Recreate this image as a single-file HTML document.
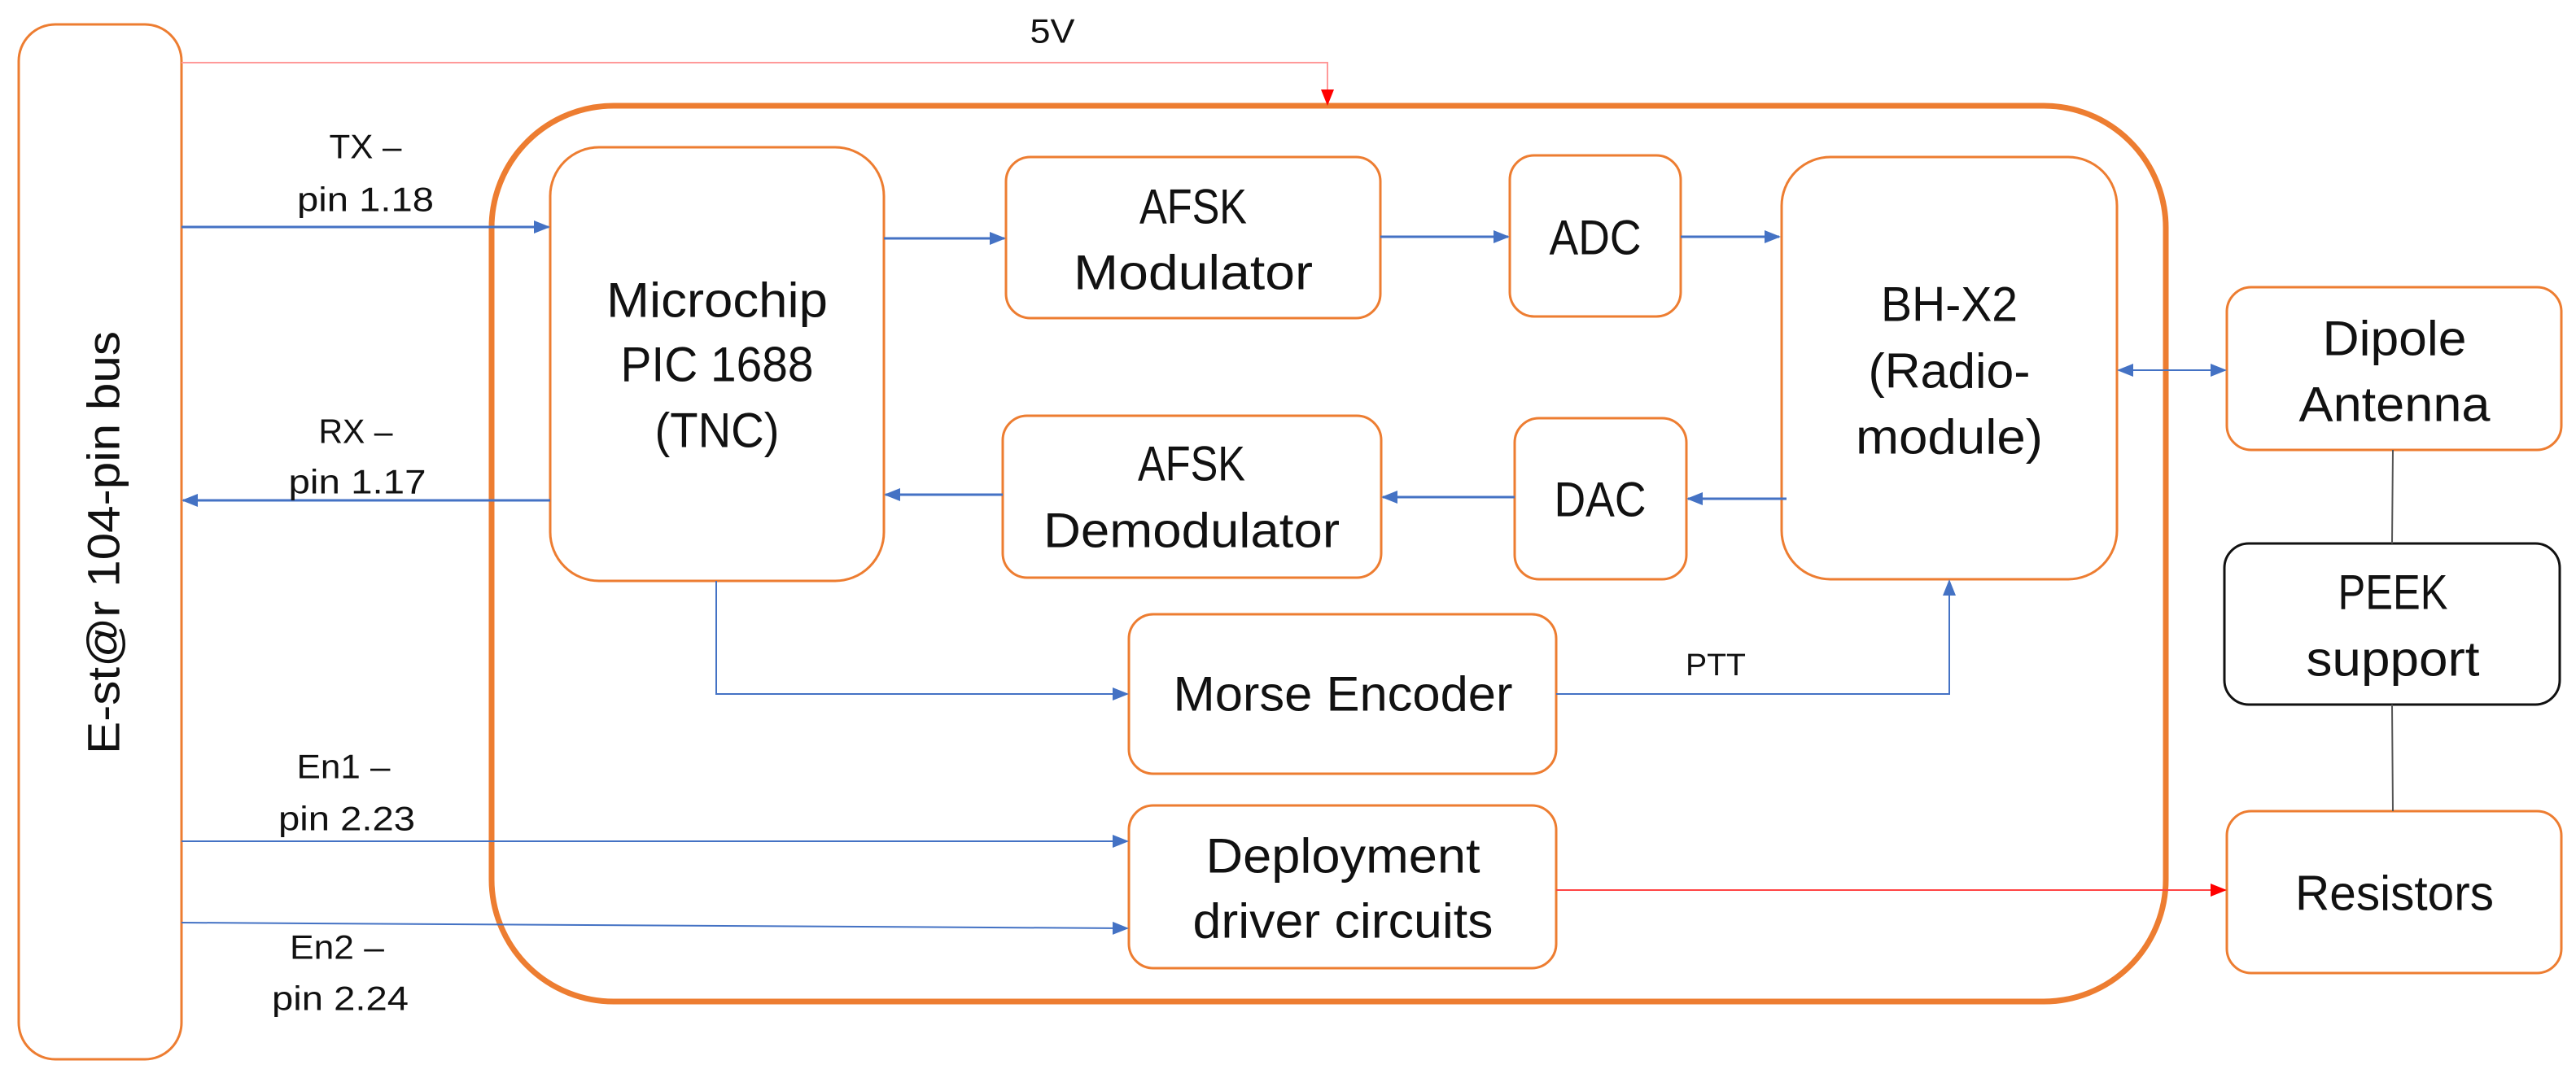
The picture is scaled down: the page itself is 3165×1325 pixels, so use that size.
<!DOCTYPE html>
<html><head><meta charset="utf-8"><style>
html,body{margin:0;padding:0;background:#fff}
svg{display:block}
text{font-family:"Liberation Sans",sans-serif;fill:#111}
.b{font-size:60px}
.l{font-size:42px}
</style></head><body>
<svg width="3165" height="1325" viewBox="0 0 3165 1325" xmlns="http://www.w3.org/2000/svg">
<defs>
<marker id="abs" markerWidth="20" markerHeight="20" refX="18" refY="10" orient="auto-start-reverse" markerUnits="userSpaceOnUse"><path d="M0,2 L20,10 L0,18 z" fill="#4472c4"/></marker>
<marker id="ar" markerWidth="20" markerHeight="20" refX="18" refY="10" orient="auto" markerUnits="userSpaceOnUse"><path d="M0,2 L20,10 L0,18 z" fill="#ff0000"/></marker>
</defs>
<g fill="none" stroke="#ed7d31">
<rect x="23" y="30" width="200" height="1272" rx="45" stroke-width="3"/>
<rect x="604" y="130" width="2057" height="1101" rx="150" stroke-width="7"/>
<rect x="676" y="181" width="410" height="533" rx="60" stroke-width="3"/>
<rect x="1236" y="193" width="460" height="198" rx="30" stroke-width="3"/>
<rect x="1232" y="511" width="465" height="199" rx="30" stroke-width="3"/>
<rect x="1855" y="191" width="210" height="198" rx="30" stroke-width="3"/>
<rect x="1861" y="514" width="211" height="198" rx="30" stroke-width="3"/>
<rect x="2189" y="193" width="412" height="519" rx="60" stroke-width="3"/>
<rect x="1387" y="755" width="525" height="196" rx="30" stroke-width="3"/>
<rect x="1387" y="990" width="525" height="200" rx="30" stroke-width="3"/>
<rect x="2736" y="353" width="411" height="200" rx="30" stroke-width="3"/>
<rect x="2736" y="997" width="411" height="199" rx="30" stroke-width="3"/>
</g>
<rect x="2733" y="668" width="412" height="198" rx="30" fill="none" stroke="#111" stroke-width="3"/>
<path d="M223,77 H1631 V128" fill="none" stroke="#ff9999" stroke-width="2" marker-end="url(#ar)"/>
<path d="M1912,1094 H2734" fill="none" stroke="#ff4444" stroke-width="2" marker-end="url(#ar)"/>
<g fill="none" stroke="#4472c4" stroke-width="3">
<path d="M223,279 H674" marker-end="url(#abs)"/>
<path d="M676,615 H225" marker-end="url(#abs)"/>
<path d="M1086,293 H1234" marker-end="url(#abs)"/>
<path d="M1232,608 H1088" marker-end="url(#abs)"/>
<path d="M1696,291 H1853" marker-end="url(#abs)"/>
<path d="M2065,291 H2186" marker-end="url(#abs)"/>
<path d="M2195,613 H2074" marker-end="url(#abs)"/>
<path d="M1861,611 H1699" marker-end="url(#abs)"/>
<path d="M880,714 V853 H1385" stroke-width="2" marker-end="url(#abs)"/>
<path d="M1912,853 H2395 V714" stroke-width="2" marker-end="url(#abs)"/>
<path d="M223,1034 H1385" stroke-width="2" marker-end="url(#abs)"/>
<path d="M223,1134 L1385,1141" stroke-width="2" marker-end="url(#abs)"/>
<path d="M2603,455 H2734" stroke-width="2" marker-start="url(#abs)" marker-end="url(#abs)"/>
</g>
<g stroke="#555" stroke-width="2">
<line x1="2940" y1="553" x2="2939" y2="668"/>
<line x1="2939" y1="866" x2="2940" y2="997"/>
</g>
<g class="b" text-anchor="middle" dominant-baseline="central">
<text x="881" y="369" textLength="272" lengthAdjust="spacingAndGlyphs">Microchip</text>
<text x="881" y="448" textLength="237" lengthAdjust="spacingAndGlyphs">PIC 1688</text>
<text x="881" y="529" textLength="153" lengthAdjust="spacingAndGlyphs">(TNC)</text>
<text x="1466" y="254" textLength="132" lengthAdjust="spacingAndGlyphs">AFSK</text>
<text x="1466" y="335" textLength="294" lengthAdjust="spacingAndGlyphs">Modulator</text>
<text x="1464" y="570" textLength="132" lengthAdjust="spacingAndGlyphs">AFSK</text>
<text x="1464" y="652" textLength="364" lengthAdjust="spacingAndGlyphs">Demodulator</text>
<text x="1960" y="292" textLength="113" lengthAdjust="spacingAndGlyphs">ADC</text>
<text x="1966" y="614" textLength="113" lengthAdjust="spacingAndGlyphs">DAC</text>
<text x="2395" y="374" textLength="168" lengthAdjust="spacingAndGlyphs">BH-X2</text>
<text x="2395" y="456" textLength="199" lengthAdjust="spacingAndGlyphs">(Radio-</text>
<text x="2395" y="537" textLength="230" lengthAdjust="spacingAndGlyphs">module)</text>
<text x="1650" y="853" textLength="417" lengthAdjust="spacingAndGlyphs">Morse Encoder</text>
<text x="1650" y="1052" textLength="337" lengthAdjust="spacingAndGlyphs">Deployment</text>
<text x="1650" y="1132" textLength="369" lengthAdjust="spacingAndGlyphs">driver circuits</text>
<text x="2942" y="416" textLength="177" lengthAdjust="spacingAndGlyphs">Dipole</text>
<text x="2942" y="497" textLength="235" lengthAdjust="spacingAndGlyphs">Antenna</text>
<text x="2940" y="728" textLength="135" lengthAdjust="spacingAndGlyphs">PEEK</text>
<text x="2940" y="810" textLength="213" lengthAdjust="spacingAndGlyphs">support</text>
<text x="2942" y="1098" textLength="244" lengthAdjust="spacingAndGlyphs">Resistors</text>
<text transform="translate(127,667) rotate(-90)" textLength="520" lengthAdjust="spacingAndGlyphs" style="font-size:56px">E-st@r 104-pin bus</text>
</g>
<g class="l" text-anchor="middle" dominant-baseline="central">
<text x="1293" y="38" textLength="55" lengthAdjust="spacingAndGlyphs">5V</text>
<text x="449" y="180" textLength="89" lengthAdjust="spacingAndGlyphs">TX –</text>
<text x="449" y="245" textLength="168" lengthAdjust="spacingAndGlyphs">pin 1.18</text>
<text x="437" y="530" textLength="91" lengthAdjust="spacingAndGlyphs">RX –</text>
<text x="439" y="592" textLength="169" lengthAdjust="spacingAndGlyphs">pin 1.17</text>
<text x="422" y="942" textLength="115" lengthAdjust="spacingAndGlyphs">En1 –</text>
<text x="426" y="1006" textLength="168" lengthAdjust="spacingAndGlyphs">pin 2.23</text>
<text x="414" y="1164" textLength="116" lengthAdjust="spacingAndGlyphs">En2 –</text>
<text x="418" y="1227" textLength="168" lengthAdjust="spacingAndGlyphs">pin 2.24</text>
<text x="2108" y="818" textLength="74" lengthAdjust="spacingAndGlyphs" style="font-size:38px">PTT</text>
</g>
</svg>
</body></html>
